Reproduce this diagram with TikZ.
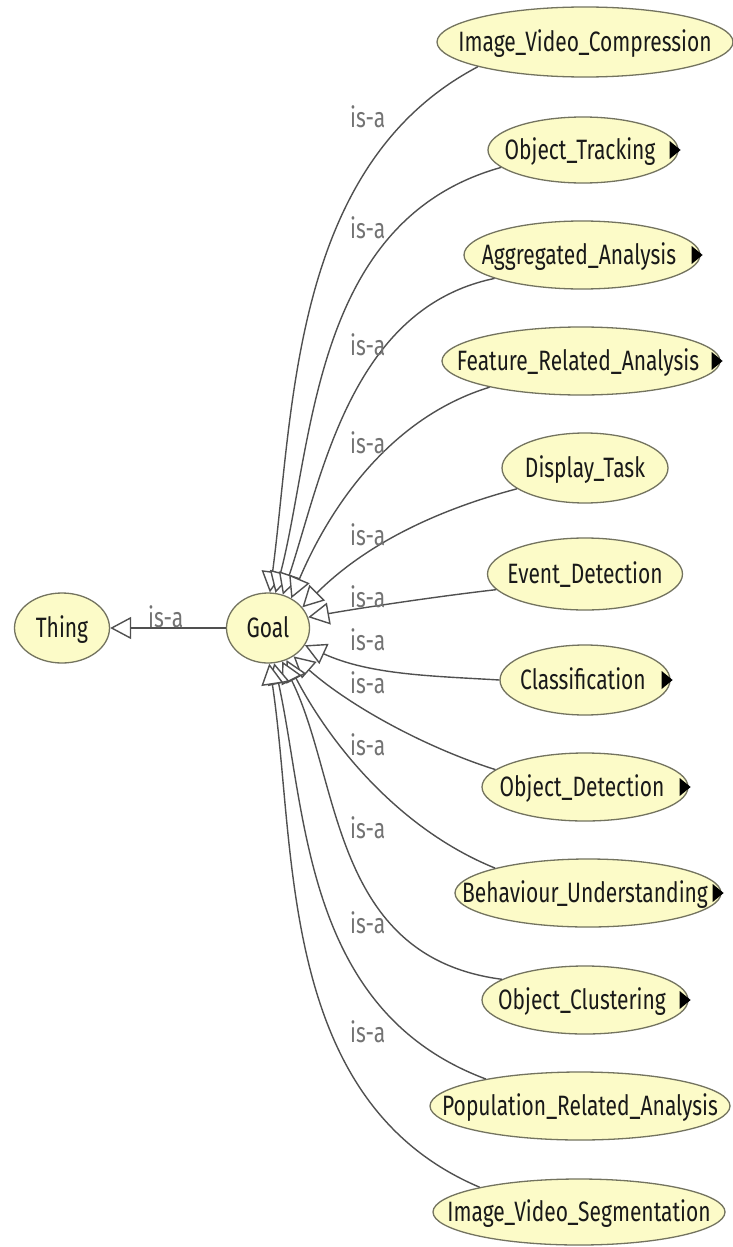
\documentclass[tikz,border=0pt]{standalone}
\usepackage{fontspec}
\setmainfont{Fira Sans}[FakeStretch=0.75]
\usetikzlibrary{shapes.geometric,arrows.meta}
\definecolor{nodefill}{RGB}{252,251,200}
\definecolor{nodeline}{RGB}{115,115,95}
\definecolor{edgecol}{RGB}{80,80,80}
\definecolor{labcol}{RGB}{115,115,115}
\definecolor{txtcol}{RGB}{25,25,25}
\begin{document}
\begin{tikzpicture}[x=1pt,y=-1pt,
  cls/.style={ellipse, draw=nodeline, line width=1.3pt, fill=nodefill, inner sep=0pt,
    text=txtcol, font=\fontsize{28}{30}\selectfont, text height=19pt, text depth=0pt},
  isa/.style={draw=edgecol, line width=1.4pt, -{Triangle[fill=white, length=21pt, width=22pt]}},
  lab/.style={anchor=base west, inner sep=0pt, text=labcol, font=\fontsize{28}{30}\selectfont},
  more/.style={fill=black}
]
\useasboundingbox[fill=white] (0,0) rectangle (733,1247);

\node[cls, minimum width=95pt, minimum height=70pt] (thing) at (62,628) {\makebox[0pt]{Thing}};
\node[cls, minimum width=83pt, minimum height=70pt] (goal) at (268,628) {\makebox[0pt]{Goal}};

\node[cls, minimum width=296pt, minimum height=70pt] (c1) at (585,42) {\makebox[0pt]{Image\_Video\_Compression}};
\node[cls, minimum width=190pt, minimum height=66pt] (c2) at (583,150) {\makebox[0pt]{Object\_Tracking\hspace{6pt}}};
\node[cls, minimum width=236pt, minimum height=68pt] (c3) at (582,255) {\makebox[0pt]{Aggregated\_Analysis\hspace{6pt}}};
\node[cls, minimum width=278pt, minimum height=68pt] (c4) at (581,361) {\makebox[0pt]{Feature\_Related\_Analysis\hspace{6pt}}};
\node[cls, minimum width=166pt, minimum height=70pt] (c5) at (585,468) {\makebox[0pt]{Display\_Task}};
\node[cls, minimum width=195pt, minimum height=72pt] (c6) at (585,574) {\makebox[0pt]{Event\_Detection}};
\node[cls, minimum width=170pt, minimum height=70pt] (c7) at (585,680) {\makebox[0pt]{Classification\hspace{4pt}}};
\node[cls, minimum width=206pt, minimum height=68pt] (c8) at (585,787) {\makebox[0pt]{Object\_Detection\hspace{6pt}}};
\node[cls, minimum width=266pt, minimum height=68pt] (c9) at (588,893) {\makebox[0pt]{Behaviour\_Understanding\hspace{6pt}}};
\node[cls, minimum width=206pt, minimum height=68pt] (c10) at (585,1000) {\makebox[0pt]{Object\_Clustering\hspace{6pt}}};
\node[cls, minimum width=300pt, minimum height=68pt] (c11) at (580,1106) {\makebox[0pt]{Population\_Related\_Analysis}};
\node[cls, minimum width=292pt, minimum height=66pt] (c12) at (579,1212) {\makebox[0pt]{Image\_Video\_Segmentation}};

\foreach \n in {c2,c3,c4,c7,c8,c9,c10}
  \fill[more] (\n.east) ++(2,0) -- ++(-11,-9) -- ++(0,18) -- cycle;

\draw[isa] (goal.west) -- (thing.east);
\node[lab] (l0) at (148,627) {is-a};

\draw[isa] (c1.193) .. controls (291,165) and (294,410) .. (goal.87);
\draw[isa] (c2.192) .. controls (312,220) and (314,443) .. (goal.78);
\draw[isa] (c3.195) .. controls (351,308) and (322,476) .. (goal.66);
\draw[isa] (c4.196) .. controls (389,418) and (329,509) .. (goal.52);
\draw[isa] (c5.197) .. controls (433,511) and (364,546) .. (goal.31);
\draw[isa] (c6.190) .. controls (440,596) and (360,608) .. (goal.15);
\draw[isa] (c7.180) .. controls (433,676) and (370,675) .. (goal.-25);
\draw[isa] (c8.169) .. controls (427,748) and (351,707) .. (goal.-48);
\draw[isa] (c9.165) .. controls (401,830) and (332,747) .. (goal.-60);
\draw[isa] (c10.166) .. controls (330,957) and (341,779) .. (goal.-67);
\draw[isa] (c11.164) .. controls (304,1011) and (307,814) .. (goal.-80);
\draw[isa] (c12.166) .. controls (276,1101) and (297,847) .. (goal.-88);

\node[lab] (l1) at (350,127) {is-a};
\node[lab] (l2) at (350,238) {is-a};
\node[lab] (l3) at (350,355) {is-a};
\node[lab] (l4) at (350,453) {is-a};
\node[lab] (l5) at (350,545) {is-a};
\node[lab] (l6) at (350,607) {is-a};
\node[lab] (l7) at (350,650) {is-a};
\node[lab] (l8) at (350,693) {is-a};
\node[lab] (l9) at (350,755) {is-a};
\node[lab] (l10) at (350,838) {is-a};
\node[lab] (l11) at (350,933) {is-a};
\node[lab] (l12) at (350,1042) {is-a};
\end{tikzpicture}
\end{document}
